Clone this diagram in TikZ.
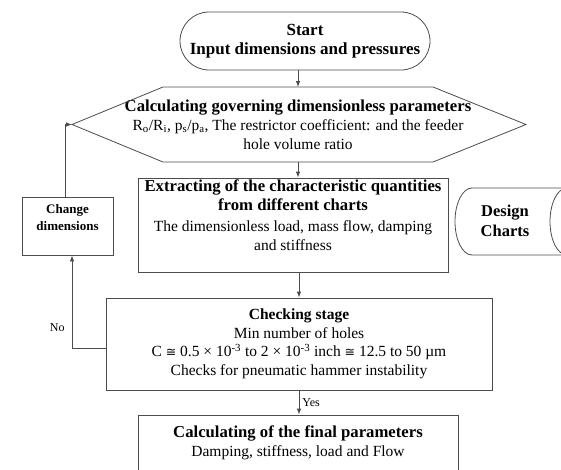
\documentclass[tikz,border=0pt]{standalone}
\usepackage{fontspec}
\setmainfont{Liberation Serif}
\newfontfamily\symfont{DejaVu Sans}
\usetikzlibrary{shapes.misc,arrows.meta,calc}
\newcommand{\hd}[1]{{\fontsize{16.7}{19}\selectfont\bfseries #1}}
\newcommand{\congsym}{{\symfont\fontsize{12.5}{15}\selectfont ≅}}

\begin{document}
\begin{tikzpicture}[x=1pt,y=-1pt,
  line/.style={draw=black!70,line width=0.8pt},
  arr/.style={line,-{Latex[length=6pt,width=4.5pt]}},
  proc/.style={rectangle,line,align=center,inner sep=0pt,
    font=\fontsize{15.5}{18.5}\selectfont},
  term/.style={rounded rectangle,line,align=center,inner sep=0pt,
    font=\fontsize{17}{19}\selectfont\bfseries},
  small/.style={rectangle,line,align=center,inner sep=0pt,
    font=\fontsize{13}{17}\selectfont\bfseries},
  lbl/.style={font=\fontsize{12}{14}\selectfont,inner sep=3pt}]
    \useasboundingbox (0,0) rectangle (561,469);
    \clip (0,0) rectangle (561,469);
    % Start
    \node[term,minimum width=250pt,minimum height=58pt] (start) at (305,41)
      {Start\\Input dimensions and pressures};
    % Dimensionless parameters (hexagon)
    \node[align=center,inner sep=0pt,font=\fontsize{15.5}{19}\selectfont]
      (calc) at (298,124.5)
      {\hd{Calculating governing dimensionless parameters}\\
       R\textsubscript{o}/R\textsubscript{i}, p\textsubscript{s}/p\textsubscript{a},
       The restrictor coefficient: and the feeder\\hole volume ratio};
    \draw[line] ($(calc)+(-135,-37.5)$) coordinate (calcN)
      -- ($(calc)+(135,-37.5)$) -- ($(calc)+(228,0)$)
      -- ($(calc)+(135,37.5)$) -- ($(calc)+(-135,37.5)$) coordinate (calcS)
      -- ($(calc)+(-226,0)$) coordinate (calcW) -- cycle;
    % Charts
    \node[proc,minimum width=310pt,minimum height=94pt] (extract) at (293,225)
      {\hd{Extracting of the characteristic quantities}\\
       \hd{from different charts}\\[3pt]
       The dimensionless load, mass flow, damping\\and stiffness\\[1pt]\mbox{}};
    \node[align=center,font=\fontsize{16.5}{20}\selectfont\bfseries] (charts)
      at (505,221) {Design\\Charts};
    \draw[line] (472,188) -- (567,188)
      arc[start angle=-90,end angle=-270,x radius=17,y radius=33.5]
      -- (472,255)
      arc[start angle=90,end angle=270,x radius=17,y radius=33.5];
    % Change
    \node[small,minimum width=91pt,minimum height=58pt] (change) at (67.5,226)
      {Change\\dimensions\\\mbox{}};
    % Checking
    \node[proc,minimum width=386pt,minimum height=92pt] (checking) at (299,344)
      {\textbf{Checking stage}\\Min number of holes\\
       C \congsym{} 0.5 × 10\textsuperscript{-3} to 2 × 10\textsuperscript{-3}
       inch \congsym{} 12.5 to 50 µm\\
       Checks for pneumatic hammer instability};
    % Final
    \node[proc,minimum width=320pt,minimum height=56pt] (final) at (298,443)
      {\hd{Calculating of the final parameters}\\
       Damping, stiffness, load and Flow};
    % Connectors
    \draw[arr] (calc.north |- start.south) -- (calc.north |- calcN);
    \draw[arr] (calc.south |- calcS) -- (calc.south |- extract.north);
    \draw[arr] (extract.south -| checking.north) -- (checking.north);
    \draw[arr] (checking.south) -- (checking.south |- final.north)
      node[midway,right,lbl] {Yes};
    \draw[arr] ([yshift=-4pt]checking.west) -| ([xshift=4.5pt]change.south)
      node[pos=0.61,left,lbl,xshift=-4pt] {No};
    \draw[arr] ([xshift=-2.5pt]change.north) |- (calcW);
\end{tikzpicture}
\end{document}
